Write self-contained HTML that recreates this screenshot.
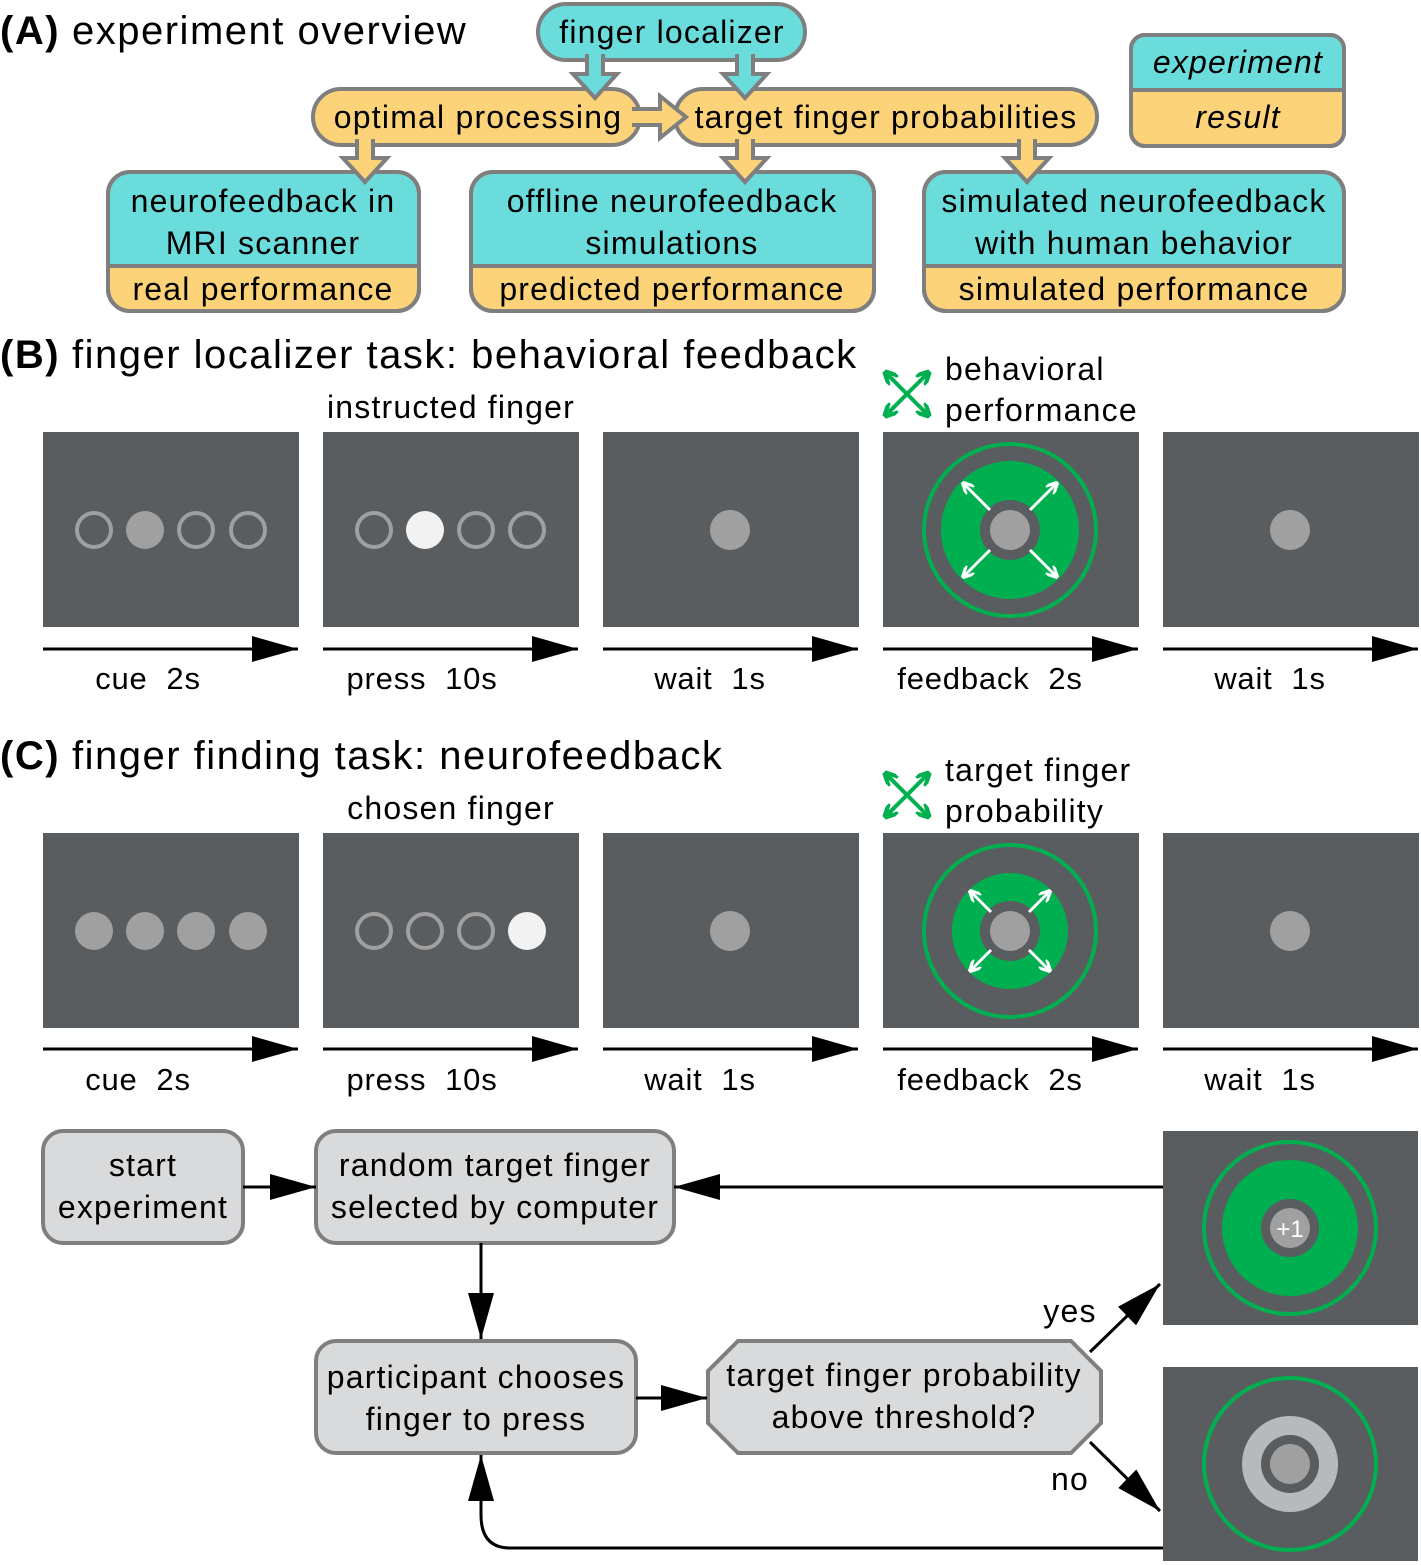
<!DOCTYPE html>
<html><head><meta charset="utf-8"><style>
body{margin:0;background:#fff}
svg{display:block;font-family:"Liberation Sans",Arial,sans-serif}
.t32{font-size:32px;letter-spacing:1.2px}
.t40{font-size:40px;letter-spacing:1.5px}
.t31{font-size:31px;letter-spacing:0.8px}
</style></head><body>
<svg width="1421" height="1565" viewBox="0 0 1421 1565" xmlns="http://www.w3.org/2000/svg">
<defs>
<marker id="bk" viewBox="0 0 10 10" refX="10" refY="5" markerWidth="46" markerHeight="26" markerUnits="userSpaceOnUse" orient="auto" preserveAspectRatio="none"><path d="M0,0 L10,5 L0,10 z" fill="#000"/></marker>
<marker id="wh" viewBox="0 0 10 10" refX="9" refY="5" markerWidth="12" markerHeight="12" markerUnits="userSpaceOnUse" orient="auto"><path d="M0,0 L10,5 L0,10" fill="none" stroke="#fff" stroke-width="2.5"/></marker>
<marker id="gr" viewBox="0 0 10 10" refX="9" refY="5" markerWidth="14" markerHeight="14" markerUnits="userSpaceOnUse" orient="auto-start-reverse"><path d="M0,0 L10,5 L0,10" fill="none" stroke="#00b050" stroke-width="3"/></marker>
</defs>

<!-- (A) -->
<text x="0" y="44" class="t40" font-weight="bold">(A)</text>
<text x="72" y="44" class="t40">experiment overview</text>

<g stroke="#7f7f7f" stroke-width="4">
<rect x="538" y="4" width="267" height="56" rx="28" fill="#6bdcdc"/>
<rect x="313" y="89" width="327" height="56" rx="28" fill="#fdd37a"/>
<rect x="675" y="89" width="422" height="56" rx="28" fill="#fdd37a"/>
<!-- block arrows -->
<polygon fill="#6bdcdc" points="587,56 603,56 603,74 617,74 595,98 573,74 587,74"/>
<polygon fill="#6bdcdc" points="737,56 753,56 753,74 767,74 745,98 723,74 737,74"/>
<polygon fill="#fdd37a" points="634,109 660,109 660,96 686,117 660,138 660,125 634,125"/>
<polygon fill="#fdd37a" points="357,141 373,141 373,158 387,158 365,182 343,158 357,158"/>
<polygon fill="#fdd37a" points="737,141 753,141 753,158 767,158 745,182 723,158 737,158"/>
<polygon fill="#fdd37a" points="1019,141 1035,141 1035,158 1049,158 1027,182 1005,158 1019,158"/>
</g>
<g stroke="none">
<rect x="589" y="52" width="12" height="8" fill="#6bdcdc"/>
<rect x="739" y="52" width="12" height="8" fill="#6bdcdc"/>
<rect x="630" y="111" width="8" height="12" fill="#fdd37a"/>
<rect x="359" y="137" width="12" height="8" fill="#fdd37a"/>
<rect x="739" y="137" width="12" height="8" fill="#fdd37a"/>
<rect x="1021" y="137" width="12" height="8" fill="#fdd37a"/>
</g>
<g class="t32" text-anchor="middle">
<text x="672" y="43">finger localizer</text>
<text x="478" y="128">optimal processing</text>
<text x="886" y="128">target finger probabilities</text>
</g>

<!-- legend -->
<g stroke="#7f7f7f" stroke-width="4">
<rect x="1131" y="35" width="213" height="111" rx="14" fill="#fdd37a"/>
<path d="M1133,90 V49 a12,12 0 0 1 12,-12 H1330 a12,12 0 0 1 12,12 V90 Z" fill="#6bdcdc" stroke="none"/>
<line x1="1131" y1="90" x2="1344" y2="90"/>
<rect x="1131" y="35" width="213" height="111" rx="14" fill="none"/>
</g>
<g class="t32" text-anchor="middle" font-style="italic">
<text x="1238" y="73">experiment</text>
<text x="1238" y="128">result</text>
</g>

<!-- three result boxes -->
<g stroke="#7f7f7f" stroke-width="4">
<rect x="108" y="172" width="311" height="139" rx="22" fill="#fdd37a"/>
<path d="M110,266 V194 a20,20 0 0 1 20,-20 H397 a20,20 0 0 1 20,20 V266 Z" fill="#6bdcdc" stroke="none"/>
<line x1="108" y1="266" x2="419" y2="266"/>
<rect x="108" y="172" width="311" height="139" rx="22" fill="none"/>

<rect x="471" y="172" width="403" height="139" rx="22" fill="#fdd37a"/>
<path d="M473,266 V194 a20,20 0 0 1 20,-20 H852 a20,20 0 0 1 20,20 V266 Z" fill="#6bdcdc" stroke="none"/>
<line x1="471" y1="266" x2="874" y2="266"/>
<rect x="471" y="172" width="403" height="139" rx="22" fill="none"/>

<rect x="924" y="172" width="420" height="139" rx="22" fill="#fdd37a"/>
<path d="M926,266 V194 a20,20 0 0 1 20,-20 H1322 a20,20 0 0 1 20,20 V266 Z" fill="#6bdcdc" stroke="none"/>
<line x1="924" y1="266" x2="1344" y2="266"/>
<rect x="924" y="172" width="420" height="139" rx="22" fill="none"/>
</g>
<!-- arrow tips over result boxes -->
<g stroke="#7f7f7f" stroke-width="4">
<polygon fill="#fdd37a" points="357,150 373,150 373,158 387,158 365,182 343,158 357,158"/>
<polygon fill="#fdd37a" points="737,150 753,150 753,158 767,158 745,182 723,158 737,158"/>
<polygon fill="#fdd37a" points="1019,150 1035,150 1035,158 1049,158 1027,182 1005,158 1019,158"/>
</g>
<g fill="#fdd37a">
<rect x="359" y="146" width="12" height="14"/>
<rect x="739" y="146" width="12" height="14"/>
<rect x="1021" y="146" width="12" height="14"/>
</g>
<g class="t32" text-anchor="middle">
<text x="263" y="212">neurofeedback in</text>
<text x="263" y="254">MRI scanner</text>
<text x="263" y="300">real performance</text>
<text x="672" y="212">offline neurofeedback</text>
<text x="672" y="254">simulations</text>
<text x="672" y="300">predicted performance</text>
<text x="1134" y="212">simulated neurofeedback</text>
<text x="1134" y="254">with human behavior</text>
<text x="1134" y="300">simulated performance</text>
</g>

<!-- (B) -->
<text x="0" y="368" class="t40" font-weight="bold">(B)</text>
<text x="72" y="368" class="t40">finger localizer task: behavioral feedback</text>
<text x="451" y="418" class="t32" text-anchor="middle">instructed finger</text>
<text x="945" y="380" class="t32">behavioral</text>
<text x="945" y="421" class="t32">performance</text>
<g stroke="#00b050" stroke-width="4" fill="none">
<line x1="885" y1="372" x2="929" y2="416" marker-start="url(#gr)" marker-end="url(#gr)"/>
<line x1="929" y1="372" x2="885" y2="416" marker-start="url(#gr)" marker-end="url(#gr)"/>
</g>

<g fill="#5a5d60">
<rect x="43" y="432" width="256" height="195"/>
<rect x="323" y="432" width="256" height="195"/>
<rect x="603" y="432" width="256" height="195"/>
<rect x="883" y="432" width="256" height="195"/>
<rect x="1163" y="432" width="256" height="195"/>
</g>
<g stroke="#a0a0a0" stroke-width="4" fill="none">
<circle cx="94" cy="530" r="17"/>
<circle cx="196" cy="530" r="17"/><circle cx="248" cy="530" r="17"/>
<circle cx="374" cy="530" r="17"/>
<circle cx="476" cy="530" r="17"/><circle cx="527" cy="530" r="17"/>
</g>
<circle cx="145" cy="530" r="19" fill="#a0a0a0"/>
<circle cx="425" cy="530" r="19" fill="#f2f2f2"/>
<circle cx="730" cy="530" r="20" fill="#a0a0a0"/>
<circle cx="1290" cy="530" r="20" fill="#a0a0a0"/>
<circle cx="1010" cy="530" r="86" fill="none" stroke="#00b050" stroke-width="4"/>
<circle cx="1010" cy="530" r="69" fill="#00b050"/>
<circle cx="1010" cy="530" r="30" fill="#5a5d60"/>
<circle cx="1010" cy="530" r="20" fill="#a0a0a0"/>
<g stroke="#fff" stroke-width="3">
<line x1="990" y1="510" x2="963" y2="483" marker-end="url(#wh)"/>
<line x1="1030" y1="510" x2="1057" y2="483" marker-end="url(#wh)"/>
<line x1="990" y1="550" x2="963" y2="577" marker-end="url(#wh)"/>
<line x1="1030" y1="550" x2="1057" y2="577" marker-end="url(#wh)"/>
</g>

<g stroke="#000" stroke-width="3">
<line x1="43" y1="649" x2="298" y2="649" marker-end="url(#bk)"/>
<line x1="323" y1="649" x2="578" y2="649" marker-end="url(#bk)"/>
<line x1="603" y1="649" x2="858" y2="649" marker-end="url(#bk)"/>
<line x1="883" y1="649" x2="1138" y2="649" marker-end="url(#bk)"/>
<line x1="1163" y1="649" x2="1418" y2="649" marker-end="url(#bk)"/>
</g>
<g class="t31" text-anchor="middle">
<text x="148" y="689" xml:space="preserve">cue  2s</text>
<text x="422" y="689" xml:space="preserve">press  10s</text>
<text x="710" y="689" xml:space="preserve">wait  1s</text>
<text x="990" y="689" xml:space="preserve">feedback  2s</text>
<text x="1270" y="689" xml:space="preserve">wait  1s</text>
</g>

<!-- (C) -->
<text x="0" y="769" class="t40" font-weight="bold">(C)</text>
<text x="72" y="769" class="t40">finger finding task: neurofeedback</text>
<text x="451" y="819" class="t32" text-anchor="middle">chosen finger</text>
<text x="945" y="781" class="t32">target finger</text>
<text x="945" y="822" class="t32">probability</text>
<g stroke="#00b050" stroke-width="4" fill="none">
<line x1="885" y1="773" x2="929" y2="817" marker-start="url(#gr)" marker-end="url(#gr)"/>
<line x1="929" y1="773" x2="885" y2="817" marker-start="url(#gr)" marker-end="url(#gr)"/>
</g>
<g fill="#5a5d60">
<rect x="43" y="833" width="256" height="195"/>
<rect x="323" y="833" width="256" height="195"/>
<rect x="603" y="833" width="256" height="195"/>
<rect x="883" y="833" width="256" height="195"/>
<rect x="1163" y="833" width="256" height="195"/>
</g>
<g fill="#a0a0a0">
<circle cx="94" cy="931" r="19"/><circle cx="145" cy="931" r="19"/>
<circle cx="196" cy="931" r="19"/><circle cx="248" cy="931" r="19"/>
<circle cx="730" cy="931" r="20"/><circle cx="1290" cy="931" r="20"/>
</g>
<g stroke="#a0a0a0" stroke-width="4" fill="none">
<circle cx="374" cy="931" r="17"/><circle cx="425" cy="931" r="17"/><circle cx="476" cy="931" r="17"/>
</g>
<circle cx="527" cy="931" r="19" fill="#f2f2f2"/>
<circle cx="1010" cy="931" r="86" fill="none" stroke="#00b050" stroke-width="4"/>
<circle cx="1010" cy="931" r="58" fill="#00b050"/>
<circle cx="1010" cy="931" r="30" fill="#5a5d60"/>
<circle cx="1010" cy="931" r="20" fill="#a0a0a0"/>
<g stroke="#fff" stroke-width="3">
<line x1="991" y1="912" x2="970" y2="891" marker-end="url(#wh)"/>
<line x1="1029" y1="912" x2="1050" y2="891" marker-end="url(#wh)"/>
<line x1="991" y1="950" x2="970" y2="971" marker-end="url(#wh)"/>
<line x1="1029" y1="950" x2="1050" y2="971" marker-end="url(#wh)"/>
</g>
<g stroke="#000" stroke-width="3">
<line x1="43" y1="1049" x2="298" y2="1049" marker-end="url(#bk)"/>
<line x1="323" y1="1049" x2="578" y2="1049" marker-end="url(#bk)"/>
<line x1="603" y1="1049" x2="858" y2="1049" marker-end="url(#bk)"/>
<line x1="883" y1="1049" x2="1138" y2="1049" marker-end="url(#bk)"/>
<line x1="1163" y1="1049" x2="1418" y2="1049" marker-end="url(#bk)"/>
</g>
<g class="t31" text-anchor="middle">
<text x="138" y="1090" xml:space="preserve">cue  2s</text>
<text x="422" y="1090" xml:space="preserve">press  10s</text>
<text x="700" y="1090" xml:space="preserve">wait  1s</text>
<text x="990" y="1090" xml:space="preserve">feedback  2s</text>
<text x="1260" y="1090" xml:space="preserve">wait  1s</text>
</g>

<!-- flowchart -->
<g stroke="#7f7f7f" stroke-width="4" fill="#d9dadb">
<rect x="43" y="1131" width="200" height="112" rx="20"/>
<rect x="316" y="1131" width="358" height="112" rx="20"/>
<rect x="316" y="1341" width="320" height="112" rx="20"/>
<polygon points="738,1341 1071,1341 1101,1371 1101,1423 1071,1453 738,1453 708,1423 708,1371"/>
</g>
<g class="t32" text-anchor="middle">
<text x="143" y="1176">start</text>
<text x="143" y="1218">experiment</text>
<text x="495" y="1176">random target finger</text>
<text x="495" y="1218">selected by computer</text>
<text x="476" y="1388">participant chooses</text>
<text x="476" y="1430">finger to press</text>
<text x="904" y="1386">target finger probability</text>
<text x="904" y="1428">above threshold?</text>
<text x="1070" y="1322">yes</text>
<text x="1070" y="1490">no</text>
</g>

<g fill="#5a5d60">
<rect x="1163" y="1131" width="255" height="194"/>
<rect x="1163" y="1367" width="255" height="194"/>
</g>
<circle cx="1290" cy="1228" r="86" fill="none" stroke="#00b050" stroke-width="4"/>
<circle cx="1290" cy="1228" r="68" fill="#00b050"/>
<circle cx="1290" cy="1228" r="29" fill="#5a5d60"/>
<circle cx="1290" cy="1228" r="20" fill="#a0a0a0"/>
<text x="1290" y="1237" font-size="24" fill="#fff" text-anchor="middle">+1</text>
<circle cx="1290" cy="1464" r="86" fill="none" stroke="#00b050" stroke-width="4"/>
<circle cx="1290" cy="1464" r="48" fill="#b8b9ba"/>
<circle cx="1290" cy="1464" r="29" fill="#5a5d60"/>
<circle cx="1290" cy="1464" r="20" fill="#a0a0a0"/>

<g stroke="#000" stroke-width="3" fill="none">
<line x1="243" y1="1187" x2="316" y2="1187" marker-end="url(#bk)"/>
<line x1="1163" y1="1187" x2="674" y2="1187" marker-end="url(#bk)"/>
<line x1="481" y1="1243" x2="481" y2="1339" marker-end="url(#bk)"/>
<line x1="636" y1="1398" x2="707" y2="1398" marker-end="url(#bk)"/>
<line x1="1090" y1="1352" x2="1160" y2="1284" marker-end="url(#bk)"/>
<line x1="1090" y1="1442" x2="1160" y2="1511" marker-end="url(#bk)"/>
<path d="M1163,1548 H510 Q481,1548 481,1515 V1455" marker-end="url(#bk)"/>
</g>
</svg>
</body></html>
